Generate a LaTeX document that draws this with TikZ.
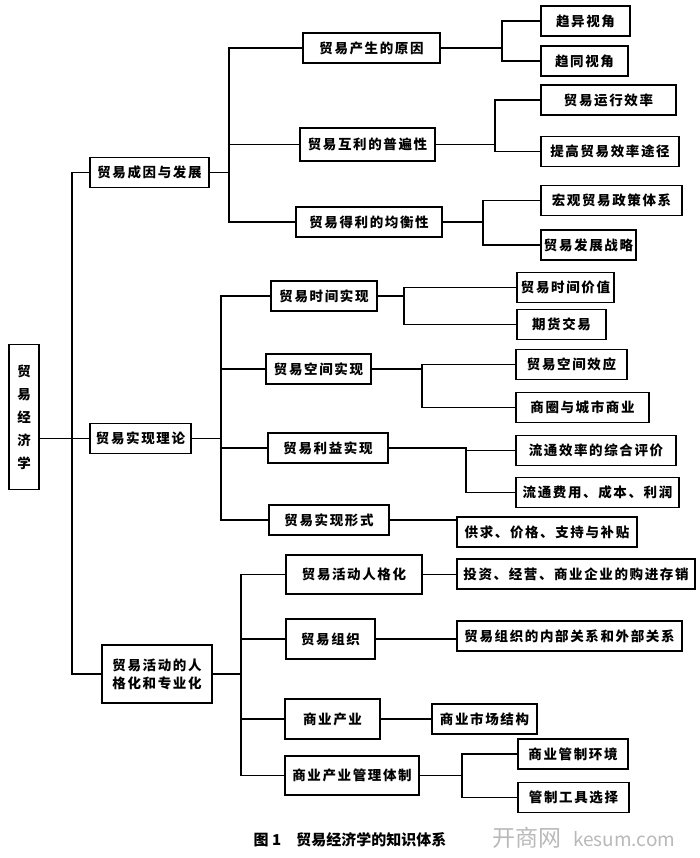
\documentclass[tikz,border=0pt]{standalone}
\usepackage{fontspec}
\newfontfamily\cjk{Noto Sans CJK SC}[LetterSpace=12]
\newfontfamily\cjkcap{Noto Sans CJK SC}
\begin{document}
\begin{tikzpicture}[x=1pt,y=-1pt,line width=1.6pt,
	every node/.style = {shape=rectangle, draw, align=center,
		minimum height=30pt, inner sep=2pt,
		font=\cjk\bfseries\fontsize{13.5}{18}\selectfont}]
	\useasboundingbox (0,0) rectangle (700,858);
	% root and first level
	\node[minimum width=30pt, minimum height=145pt] (root) at (24,417) {贸\\[5pt]易\\[5pt]经\\[5pt]济\\[5pt]学};
	\node[minimum width=119pt] (r1) at (149.5,172.5) {贸易成因与发展};
	\node[minimum width=101pt] (r2) at (140.5,438.5) {贸易实现理论};
	\node[minimum width=110pt, minimum height=58pt] (r3) at (157,674) {贸易活动的人\\格化和专业化};
	% second level
	\node[minimum width=137pt] (a1) at (371.5,48) {贸易产生的原因};
	\node[minimum width=135pt, minimum height=33pt] (a2) at (367.5,144.5) {贸易互利的普遍性};
	\node[minimum width=146pt] (a3) at (369,222) {贸易得利的均衡性};
	\node[minimum width=106pt] (b1) at (324,296) {贸易时间实现};
	\node[minimum width=105pt] (b2) at (318.5,369) {贸易空间实现};
	\node[minimum width=120pt] (b3) at (328,448) {贸易利益实现};
	\node[minimum width=120pt] (b4) at (329,520) {贸易实现形式};
	\node[minimum width=136pt, minimum height=39pt] (c1) at (354,574.5) {贸易活动人格化};
	\node[minimum width=89pt, minimum height=40pt] (c2) at (330.5,639) {贸易组织};
	\node[minimum width=95pt, minimum height=40pt] (c3) at (332.5,719) {商业产业};
	\node[minimum width=134pt, minimum height=39pt] (c4) at (352,775.5) {商业产业管理体制};
	% third level
	\node[minimum width=89pt] (a11) at (585.5,21) {趋异视角};
	\node[minimum width=87pt] (a12) at (584.5,61) {趋同视角};
	\node[minimum width=135pt] (a21) at (608.5,100) {贸易运行效率};
	\node[minimum width=138pt] (a22) at (610,151.5) {提高贸易效率途径};
	\node[minimum width=141pt] (a31) at (611.5,200.5) {宏观贸易政策体系};
	\node[minimum width=95pt] (a32) at (588.5,245) {贸易发展战略};
	\node[minimum width=97pt] (b11) at (565.5,287.5) {贸易时间价值};
	\node[minimum width=89pt] (b12) at (561.5,324.5) {期货交易};
	\node[minimum width=111pt] (b21) at (571.5,364.5) {贸易空间效应};
	\node[minimum width=133pt] (b22) at (582.5,407.5) {商圈与城市商业};
	\node[minimum width=160pt] (b31) at (596,450.5) {流通效率的综合评价};
	\node[minimum width=163pt] (b32) at (597.5,492.5) {流通费用、成本、利润};
	\node[minimum width=180pt] (b41) at (547,532) {供求、价格、支持与补贴};
	\node[minimum width=238pt] (c11) at (576,574) {投资、经营、商业企业的购进存销};
	\node[minimum width=225pt] (c21) at (569.5,636) {贸易组织的内部关系和外部关系};
	\node[minimum width=105pt] (c31) at (484.5,719) {商业市场结构};
	\node[minimum width=110pt] (c41) at (573,754) {商业管制环境};
	\node[minimum width=111pt] (c42) at (573.5,797.5) {管制工具选择};
	% caption
	\node[draw=none, font=\cjkcap\bfseries\fontsize{15}{17}\selectfont] (cap) at (350,840) {图 1\quad 贸易经济学的知识体系};
	\node[draw=none, text=gray!55, font=\cjkcap\fontsize{23}{25}\selectfont] (wm) at (584,838) {开商网\; {\fontsize{19}{21}\selectfont kesum.com}};
	% bus lines
	\coordinate (bR) at (72,0);
	\coordinate (bA) at (229,0);
	\coordinate (bB) at (221,0);
	\coordinate (bC) at (241,0);
	\coordinate (bA1) at (502,0);
	\coordinate (bA2) at (495,0);
	\coordinate (bA3) at (483,0);
	\coordinate (bB1) at (404,0);
	\coordinate (bB2) at (422,0);
	\coordinate (bB3) at (466,0);
	\coordinate (bC4) at (462,0);
	% connectors
	\draw (root.east |- r2.west) -- (r2.west);
	\draw (r1.west) -| (bR |- r3.west) -- (r3.west);
	\foreach \p/\b/\c in {r1/bA/a1, r1/bA/a2, r1/bA/a3,
		r2/bB/b1, r2/bB/b2, r2/bB/b3, r2/bB/b4,
		r3/bC/c1, r3/bC/c2, r3/bC/c3, r3/bC/c4,
		a1/bA1/a11, a1/bA1/a12, a2/bA2/a21, a2/bA2/a22,
		a3/bA3/a31, a3/bA3/a32, b1/bB1/b11, b1/bB1/b12,
		b2/bB2/b21, b2/bB2/b22, b3/bB3/b31, b3/bB3/b32,
		c4/bC4/c41, c4/bC4/c42}
		\draw (\p.east) -- (\p.east -| \b) |- (\c.west);
	\foreach \p/\c in {b4/b41, c1/c11, c2/c21, c3/c31}
		\draw (\p.east) -- (\p.east -| \c.west);
\end{tikzpicture}
\end{document}
